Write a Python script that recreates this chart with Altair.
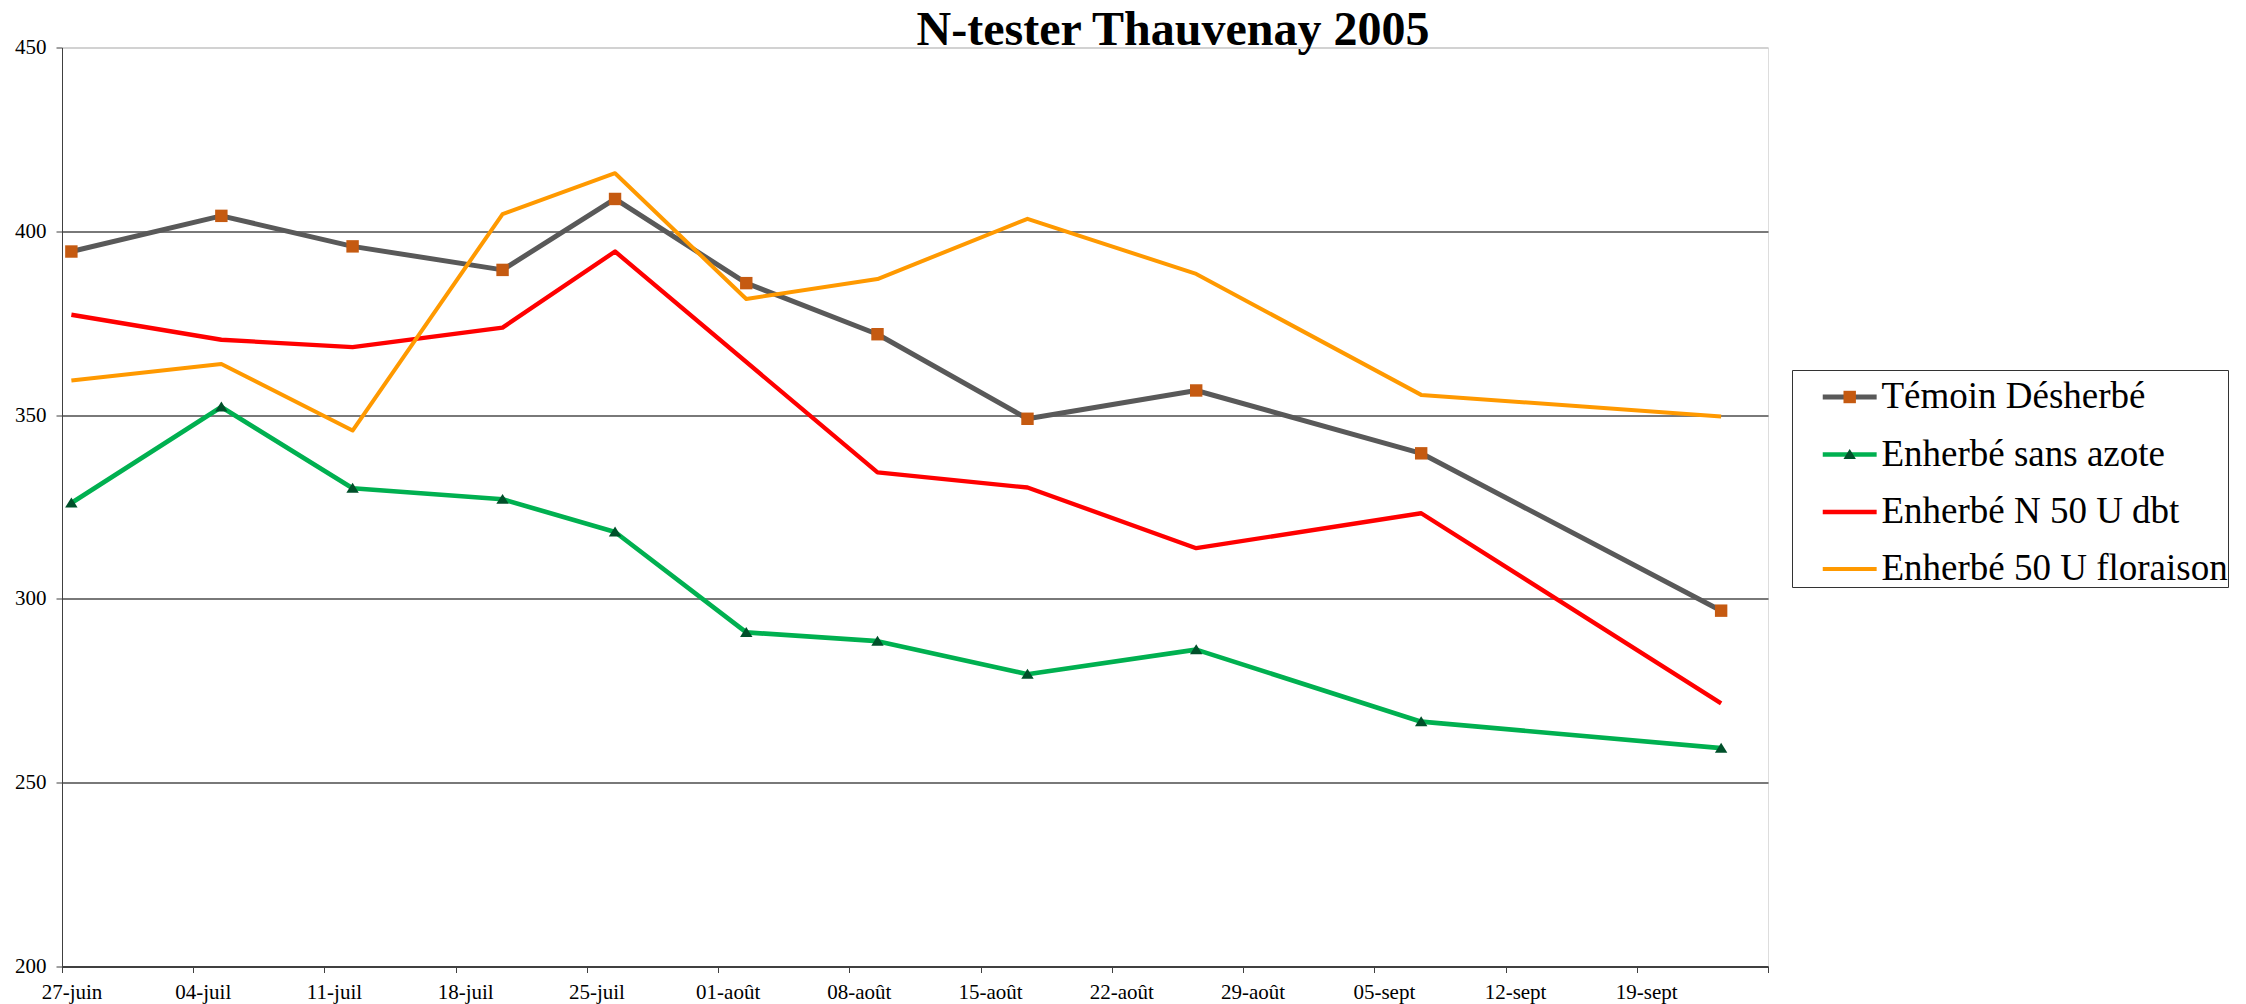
import altair as alt
import pandas as pd

# ---- data ----
series = ["Témoin Désherbé", "Enherbé sans azote", "Enherbé N 50 U dbt", "Enherbé 50 U floraison"]
dates = ["2005-06-27", "2005-07-05", "2005-07-12", "2005-07-20", "2005-07-26", "2005-08-02",
         "2005-08-09", "2005-08-17", "2005-08-26", "2005-09-07", "2005-09-23"]
temoin = [394.5, 404.2, 395.9, 389.5, 408.8, 385.9, 372.0, 349.0, 356.7, 339.6, 296.8]
sans_azote = [326.1, 352.2, 330.1, 327.1, 318.2, 290.9, 288.5, 279.5, 286.2, 266.6, 259.4]
n50_dbt = [377.3, 370.5, 368.5, 373.8, 394.5, None, 334.4, 330.3, 313.8, 323.3, 271.6]
floraison = [359.4, 363.9, 345.8, 404.7, 415.8, 381.6, 387.0, 403.4, 388.4, 355.5, 349.6]

tick_dates = ["2005-06-27", "2005-07-04", "2005-07-11", "2005-07-18", "2005-07-25", "2005-08-01",
              "2005-08-08", "2005-08-15", "2005-08-22", "2005-08-29", "2005-09-05", "2005-09-12",
              "2005-09-19", "2005-09-26"]
tick_labels = ["27-juin", "04-juil", "11-juil", "18-juil", "25-juil", "01-août", "08-août",
               "15-août", "22-août", "29-août", "05-sept", "12-sept", "19-sept", ""]
y_ticks = [200, 250, 300, 350, 400, 450]

line_colors = ["#595959", "#00B050", "#FF0000", "#FF9900"]
line_widths = [5, 4, 4, 4]
marker_series = ["Témoin Désherbé", "Enherbé sans azote"]
marker_colors = ["#C55A11", "#00502A"]
marker_paths = ["M-0.23,-0.23H0.23V0.23H-0.23Z", "M0,-0.2L0.23,0.17L-0.23,0.17Z"]

# ---- table ----
rows = []
for name, vals in zip(series, [temoin, sans_azote, n50_dbt, floraison]):
    for d, v in zip(dates, vals):
        if v is not None:
            rows.append({"date": d + "T12:00:00", "serie": name, "valeur": v})
df = pd.DataFrame(rows)
mk = df[df["serie"].isin(marker_series)].copy()
mk["marqueur"] = mk["serie"]

def dt(s):
    y, m, d = (int(p) for p in s.split("-"))
    return alt.DateTime(year=y, month=m, date=d)

keys = ",".join("'" + t[5:] + "'" for t in tick_dates)
labs = ",".join("'" + t + "'" for t in tick_labels)
label_expr = f"[{labs}][indexof([{keys}], timeFormat(datum.value, '%m-%d'))]"

FONT = "Liberation Serif"

x_enc = alt.X("date:T",
              scale=alt.Scale(domain=[dt(tick_dates[0]), dt(tick_dates[-1])]),
              axis=alt.Axis(values=[dt(t) for t in tick_dates], labelExpr=label_expr, title=None,
                            grid=False, domainColor="#404040", domainWidth=2, tickColor="#404040",
                            tickSize=6, tickWidth=1, labelFont=FONT, labelFontSize=21,
                            labelColor="black", labelPadding=9, labelOffset=9.5,
                            labelOverlap=False, labelFlush=False))
y_enc = alt.Y("valeur:Q",
              scale=alt.Scale(domain=[200, 450], nice=False, zero=False),
              axis=alt.Axis(values=y_ticks, title=None, grid=True,
                            gridColor={"condition": {"test": "datum.value == 450", "value": "#c8c8c8"},
                                       "value": "#4d4d4d"},
                            gridWidth=1.3, domainColor="#404040", domainWidth=1,
                            tickColor="#404040", tickSize=6, labelFont=FONT, labelFontSize=21,
                            labelColor="black", labelPadding=10))

LEG = dict(orient="none", legendX=1730, legendY=322.5, title=None, padding=0,
           symbolOffset=30.7, labelOffset=4.7, labelFont=FONT, labelFontSize=37,
           labelLimit=700, rowPadding=12.5)
legend_lines = alt.Legend(symbolType="M-1.1,0H1.1", symbolSize=2401, symbolStrokeWidth=5,
                          labelColor="black", strokeColor="#333333",
                          labelExpr="datum.label + '" + "\u00a0" * 9 + "'", **LEG)
legend_marks = alt.Legend(symbolSize=2916, symbolStrokeWidth=0, labelOpacity=0, **LEG)

lines = alt.Chart(df).mark_line(strokeJoin="round").encode(
    x=x_enc, y=y_enc,
    color=alt.Color("serie:N", scale=alt.Scale(domain=series, range=line_colors), legend=legend_lines),
    strokeWidth=alt.StrokeWidth("serie:N", scale=alt.Scale(domain=series, range=line_widths), legend=None),
)
points = alt.Chart(mk).mark_point(filled=True, opacity=1, strokeWidth=0, size=2916).encode(
    x=x_enc, y=y_enc,
    shape=alt.Shape("marqueur:N", scale=alt.Scale(domain=marker_series, range=marker_paths), legend=legend_marks),
    fill=alt.Fill("marqueur:N", scale=alt.Scale(domain=marker_series, range=marker_colors), legend=legend_marks),
)

chart = alt.layer(lines, points).properties(
    width=1706, height=919,
    title=alt.TitleParams("N-tester Thauvenay 2005", font=FONT, fontSize=48, fontWeight="bold",
                          color="black", anchor="middle", dx=258, dy=22),
    autosize=alt.AutoSizeParams(type="none"),
    padding={"left": 54, "top": 39.5, "right": 470, "bottom": 42},
).configure_view(stroke="#c8c8c8", strokeWidth=1).configure(background="white")

chart.save("out.html", embed_options={"renderer": "svg", "actions": False})
